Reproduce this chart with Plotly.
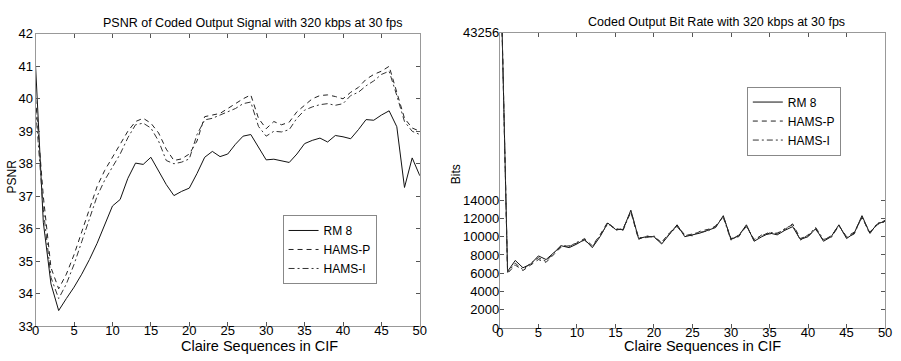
import plotly.graph_objects as go

W, H = 901, 361

frames = list(range(51))

psnr_rm8 = [41.0, 36.2, 34.3, 33.48, 33.85, 34.2, 34.6, 35.05, 35.55, 36.15, 36.7,
            36.9, 37.55, 38.02, 37.98, 38.2, 37.78, 37.36, 37.02, 37.15, 37.25,
            37.7, 38.2, 38.38, 38.22, 38.3, 38.6, 38.85, 38.9, 38.5, 38.12,
            38.14, 38.08, 38.04, 38.3, 38.62, 38.72, 38.79, 38.67, 38.87, 38.83,
            38.77, 39.05, 39.36, 39.34, 39.5, 39.63, 39.14, 37.27, 38.18, 37.63]
psnr_hams_p = [40.0, 37.0, 34.8, 34.15, 34.6, 35.2, 35.9, 36.6, 37.3, 37.8, 38.2,
               38.6, 39.0, 39.3, 39.4, 39.25, 38.95, 38.45, 38.1, 38.15, 38.3,
               38.7, 39.45, 39.5, 39.55, 39.7, 39.85, 40.0, 40.12, 39.4, 39.08,
               39.3, 39.2, 39.28, 39.6, 39.8, 40.0, 40.1, 40.12, 40.07, 40.0,
               40.2, 40.35, 40.6, 40.75, 40.85, 41.0, 40.2, 39.4, 39.1, 39.0]
psnr_hams_i = [39.7, 36.6, 34.5, 33.85, 34.3, 34.9, 35.6, 36.3, 37.0, 37.5, 37.9,
               38.3, 38.8, 39.2, 39.25, 39.1, 38.7, 38.1, 38.0, 38.05, 38.15,
               38.9, 39.35, 39.4, 39.5, 39.6, 39.7, 39.85, 39.9, 39.15, 38.85,
               39.0, 38.98, 39.05, 39.4, 39.65, 39.75, 39.82, 39.85, 39.8, 39.85,
               40.1, 40.2, 40.4, 40.55, 40.75, 40.85, 40.1, 39.3, 39.0, 38.9]

bits_rm8 = [43256, 6200, 7400, 6600, 7000, 7900, 7500, 8300, 9000, 8800, 9200,
            9700, 8800, 10000, 11500, 10800, 10800, 12900, 9800, 10000, 10000,
            9200, 10200, 11300, 10000, 10200, 10400, 10700, 11000, 12300, 9700,
            10100, 11300, 9500, 10000, 10400, 10200, 10700, 11100, 9700, 10000,
            10900, 9500, 10000, 11300, 9800, 10400, 12300, 10400, 11400, 11700]
bits_hams_p = [43256, 6000, 6900, 6300, 6900, 7500, 7200, 8100, 8900, 9000, 9300,
               9800, 9000, 10200, 11600, 10700, 10900, 12700, 9700, 10100, 9900,
               9400, 10400, 11200, 10200, 10100, 10600, 10800, 11100, 12200, 9800,
               10000, 11200, 9600, 10200, 10300, 10400, 10800, 11400, 9800, 10100,
               10800, 9600, 10100, 11200, 10000, 10500, 12100, 10500, 11300, 11800]
bits_hams_i = [43256, 6100, 7100, 6400, 7100, 7700, 7300, 8200, 9100, 8900, 9400,
               9600, 8900, 10100, 11400, 10900, 10700, 12800, 9900, 9900, 10100,
               9300, 10300, 11100, 10100, 10300, 10500, 10600, 11200, 12100, 9600,
               10200, 11100, 9700, 10100, 10500, 10300, 10900, 11300, 9600, 10200,
               11000, 9700, 9900, 11200, 9900, 10300, 12200, 10300, 11500, 11600]

series_names = ["RM 8", "HAMS-P", "HAMS-I"]
psnr_ticks = list(range(33, 43))
frame_ticks = list(range(0, 51, 5))
bits_ticks = list(range(0, 14001, 2000))
bits_axis_top = 32300  # visible top of the Bits axis (first I-frame exceeds it)

def pxx(x):
    return x / W

def pyy(y):
    return 1 - y / H

styles = [dict(color="#111111", width=1, dash="solid"),
          dict(color="#222222", width=1, dash="5px,4px"),
          dict(color="#333333", width=1, dash="6px,3px,2px,3px")]

fig = go.Figure()
for name, ys, st in zip(series_names, [psnr_rm8, psnr_hams_p, psnr_hams_i], styles):
    fig.add_trace(go.Scatter(x=frames, y=ys, mode="lines", name=name, line=st,
                             xaxis="x", yaxis="y", legend="legend"))
for name, ys, st in zip(series_names, [bits_rm8, bits_hams_p, bits_hams_i], styles):
    fig.add_trace(go.Scatter(x=frames, y=ys, mode="lines", name=name, line=st,
                             xaxis="x2", yaxis="y2", legend="legend2"))

tickfont = dict(family="Arial", size=13, color="black")
axis_common = dict(showgrid=False, zeroline=False, ticks="inside", ticklen=4,
                   tickcolor="#555", showline=True, linecolor="#999",
                   linewidth=1, mirror="ticks", tickfont=tickfont)

fig.update_layout(
    width=W, height=H, margin=dict(l=0, r=0, t=0, b=0),
    plot_bgcolor="white", paper_bgcolor="white",
    xaxis=dict(domain=[pxx(32), pxx(421)], range=[0, 50], tickvals=frame_ticks,
               anchor="y", ticklabelstandoff=-8, **axis_common),
    yaxis=dict(domain=[pyy(333), pyy(28)], range=[33, 42], tickvals=psnr_ticks,
               anchor="x", ticklabelstandoff=-1, **axis_common),
    xaxis2=dict(domain=[pxx(502), pxx(892)], range=[0, 50], tickvals=frame_ticks,
                anchor="y2", ticklabelstandoff=-8, **axis_common),
    yaxis2=dict(domain=[pyy(335), pyy(27)], range=[0, bits_axis_top],
                tickvals=bits_ticks + [bits_axis_top],
                ticktext=[str(v) for v in bits_ticks] + [str(max(bits_rm8))],
                anchor="x2", ticklabelstandoff=-3, **axis_common),
    legend=dict(x=pxx(282), y=pyy(217), xanchor="left", yanchor="top",
                bordercolor="#888", borderwidth=1, bgcolor="white",
                font=dict(family="Arial", size=12, color="black"),
                itemwidth=30, tracegroupgap=0),
    legend2=dict(x=pxx(752), y=pyy(83), xanchor="left", yanchor="top",
                 bordercolor="#888", borderwidth=1, bgcolor="white",
                 font=dict(family="Arial", size=12, color="black"),
                 itemwidth=30, tracegroupgap=0),
    showlegend=True,
)

ann_font = dict(family="Arial", color="black")
annotations = [
    dict(text="PSNR of Coded Output Signal with 320 kbps at 30 fps", x=pxx(252), y=pyy(17),
         font=dict(size=12.5, **ann_font)),
    dict(text="Coded Output Bit Rate with 320 kbps at 30 fps", x=pxx(721), y=pyy(16),
         font=dict(size=12.5, **ann_font)),
    dict(text="Claire Sequences in CIF", x=pxx(259), y=pyy(354),
         font=dict(size=14.5, **ann_font)),
    dict(text="Claire Sequences in CIF", x=pxx(707), y=pyy(354),
         font=dict(size=14.5, **ann_font)),
    dict(text="PSNR", x=pxx(8), y=pyy(177), textangle=-90,
         font=dict(size=12, **ann_font)),
    dict(text="Bits", x=pxx(457), y=pyy(174), textangle=-90,
         font=dict(size=12, **ann_font)),
]
for a in annotations:
    fig.add_annotation(xref="paper", yref="paper", showarrow=False,
                       xanchor="center", yanchor="middle", **a)

fig.write_html("out.html")
